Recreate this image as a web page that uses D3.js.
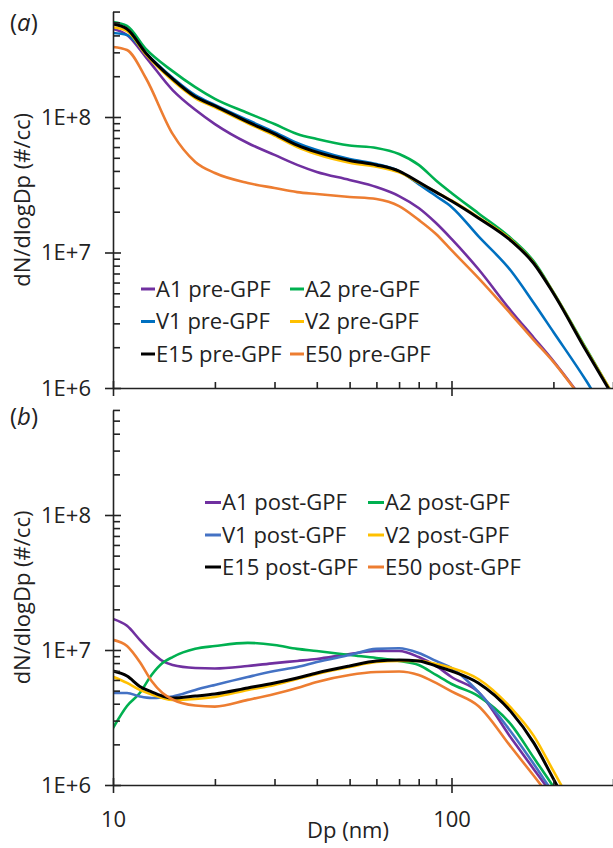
<!DOCTYPE html>
<html><head><meta charset="utf-8">
<script src="https://cdn.jsdelivr.net/npm/d3@7"></script>
<style>
html,body{margin:0;padding:0;background:#fff;}
svg text{font-family:"Open Sans",sans-serif;fill:#222;}
</style></head>
<body>
<svg id="chart" width="613" height="848"></svg>
<script>
// ---------- data ----------
const dpA = [10, 11, 12.5, 15, 17.5, 20, 25, 30, 35, 40, 50, 60, 70, 80, 90, 100, 120, 150, 175, 200, 250, 300];
const A1pre  = [4.46e8, 4.03e8, 2.77e8, 1.58e8, 1.13e8, 8.87e7, 6.43e7, 5.25e7, 4.43e7, 3.93e7, 3.43e7, 3.04e7, 2.61e7, 2.13e7, 1.65e7, 1.26e7, 7.55e6, 3.7e6, 2.35e6, 1.58e6, 7.6e5, 4.1e5];
const A2pre  = [5.02e8, 4.7e8, 3.18e8, 2.18e8, 1.66e8, 1.36e8, 1.07e8, 8.87e7, 7.5e7, 6.88e7, 6.16e7, 5.91e7, 5.33e7, 4.43e7, 3.4e7, 2.75e7, 1.95e7, 1.27e7, 8.6e6, 5.1e6, 1.95e6, 8.9e5];
const V1pre  = [4.17e8, 4.03e8, 2.95e8, 1.95e8, 1.45e8, 1.23e8, 9.5e7, 7.74e7, 6.43e7, 5.71e7, 4.9e7, 4.5e7, 3.99e7, 3.2e7, 2.61e7, 2.17e7, 1.32e7, 7.3e6, 4.24e6, 2.59e6, 1.13e6, 5.3e5];
const V2pre  = [4.6e8, 4.3e8, 2.9e8, 1.86e8, 1.38e8, 1.18e8, 9.0e7, 7.3e7, 6.0e7, 5.3e7, 4.6e7, 4.3e7, 3.9e7, 3.28e7, 2.8e7, 2.42e7, 1.82e7, 1.24e7, 8.4e6, 5.05e6, 1.92e6, 9.0e5];
const E15pre = [4.85e8, 4.46e8, 2.97e8, 1.91e8, 1.41e8, 1.21e8, 9.2e7, 7.5e7, 6.2e7, 5.5e7, 4.78e7, 4.43e7, 3.99e7, 3.31e7, 2.79e7, 2.40e7, 1.8e7, 1.22e7, 8.3e6, 5.0e6, 1.88e6, 8.7e5];
const E50pre = [3.29e8, 3.12e8, 1.94e8, 7.5e7, 4.66e7, 3.86e7, 3.26e7, 2.99e7, 2.79e7, 2.70e7, 2.57e7, 2.48e7, 2.2e7, 1.74e7, 1.37e7, 1.04e7, 6.5e6, 3.5e6, 2.26e6, 1.56e6, 7.5e5, 4.0e5];

const dpB = [10, 11, 12, 13, 14, 15, 17.5, 20, 25, 30, 35, 40, 50, 60, 70, 80, 90, 100, 120, 150, 175, 200, 250];
const A1post  = [1.70e7, 1.51e7, 1.19e7, 9.66e6, 8.3e6, 7.74e6, 7.36e6, 7.3e6, 7.61e6, 8.0e6, 8.3e6, 8.58e6, 9.34e6, 9.83e6, 9.83e6, 8.87e6, 7.61e6, 6.31e6, 4.89e6, 2.23e6, 1.31e6, 8.3e5, 3.9e5];
const A2post  = [2.64e6, 3.85e6, 4.8e6, 6.53e6, 8.0e6, 8.87e6, 1.02e7, 1.07e7, 1.13e7, 1.09e7, 1.02e7, 9.83e6, 9.18e6, 8.73e6, 8.3e6, 7.74e6, 6.53e6, 5.6e6, 4.56e6, 2.8e6, 1.59e6, 9.7e5, 4.05e5];
const V1post  = [4.8e6, 4.8e6, 4.53e6, 4.41e6, 4.45e6, 4.53e6, 5.06e6, 5.51e6, 6.31e6, 6.99e6, 7.48e6, 8.15e6, 9.18e6, 1.02e7, 1.03e7, 9.5e6, 8.3e6, 7.36e6, 4.89e6, 2.47e6, 1.43e6, 8.7e5, 3.9e5];
const V2post  = [6.34e6, 5.7e6, 5.06e6, 4.68e6, 4.41e6, 4.27e6, 4.34e6, 4.49e6, 5.06e6, 5.51e6, 6.1e6, 6.64e6, 7.48e6, 8.15e6, 8.3e6, 8.3e6, 7.87e6, 7.36e6, 6.1e6, 3.72e6, 2.31e6, 1.27e6, 4.6e5];
const E15post = [6.99e6, 6.41e6, 5.37e6, 4.89e6, 4.56e6, 4.41e6, 4.56e6, 4.72e6, 5.23e6, 5.7e6, 6.21e6, 6.76e6, 7.61e6, 8.3e6, 8.43e6, 8.3e6, 7.61e6, 6.99e6, 5.7e6, 3.48e6, 2.05e6, 1.11e6, 3.9e5];
const E50post = [1.19e7, 1.07e7, 8.15e6, 5.89e6, 4.8e6, 4.3e6, 3.88e6, 3.81e6, 4.27e6, 4.72e6, 5.23e6, 5.8e6, 6.53e6, 6.87e6, 6.93e6, 6.53e6, 5.7e6, 4.93e6, 3.85e6, 1.91e6, 1.17e6, 7.6e5, 3.7e5];

const namesPre  = ["A1 pre-GPF", "A2 pre-GPF", "V1 pre-GPF", "V2 pre-GPF", "E15 pre-GPF", "E50 pre-GPF"];
const namesPost = ["A1 post-GPF", "A2 post-GPF", "V1 post-GPF", "V2 post-GPF", "E15 post-GPF", "E50 post-GPF"];
const colorsPre  = ["#7030A0", "#00B050", "#0070C0", "#FFC000", "#000000", "#ED7D31"];
const colorsPost = ["#7030A0", "#00B050", "#4472C4", "#FFC000", "#000000", "#ED7D31"];
const yMajorTicks = [1e6, 1e7, 1e8];
const yMinorTicks = [2e6,3e6,4e6,5e6,6e6,7e6,8e6,9e6,2e7,3e7,4e7,5e7,6e7,7e7,8e7,9e7,2e8,3e8,4e8,5e8,6e8];
const xMajorTicks = [10, 100];
const xMinorTicks = [20,30,40,50,60,70,80,90,200,300];

// ---------- layout ----------
const svg = d3.select("#chart");
const x0 = 113, dec = 338.5;
const x = d3.scaleLog().domain([10, 300]).range([x0, x0 + dec * Math.log10(30)]);
const yA = d3.scaleLog().domain([1e6, 6e8]).range([388, 388 - 135.5 * Math.log10(600)]);
const yB = d3.scaleLog().domain([1e6, 6e8]).range([785, 785 - 135 * Math.log10(600)]);

function panel(id, y, dp, series, names, colors, legend, showXLabels, tag, tagY) {
  const g = svg.append("g");
  const [yb, yt] = y.range();
  g.append("clipPath").attr("id", "clip" + id).append("rect")
    .attr("x", x0).attr("y", yt - 2).attr("width", 613 - x0).attr("height", yb - yt + 2);

  const line = d3.line().x(d => x(d[0])).y(d => y(d[1])).curve(d3.curveMonotoneX);
  const lg = g.append("g").attr("clip-path", `url(#clip${id})`);
  series.forEach((s, i) => {
    lg.append("path").datum(dp.map((d, j) => [d, s[j]]))
      .attr("d", line).attr("fill", "none")
      .attr("stroke", colors[i]).attr("stroke-width", i === 4 ? 3 : 2.6)
      .attr("stroke-linejoin", "round").attr("stroke-linecap", "round");
  });

  // y axis
  const ya = g.append("g").attr("transform", `translate(${x0},0)`);
  ya.call(d3.axisLeft(y).tickValues(yMajorTicks).tickSize(8).tickSizeOuter(0).tickPadding(14)
    .tickFormat(d => "1E+" + Math.round(Math.log10(d))));
  ya.append("g").call(d3.axisRight(y).tickValues(yMajorTicks).tickSize(8).tickFormat(""))
    .select(".domain").remove();
  ya.append("g").call(d3.axisRight(y).tickValues(yMinorTicks).tickSize(7).tickFormat(""))
    .select(".domain").remove();
  ya.selectAll("text").style("font-size", "22px").attr("fill", "#222");

  // x axis
  const xa = g.append("g").attr("transform", `translate(0,${yb})`);
  xa.call(d3.axisBottom(x).tickValues(xMajorTicks).tickSize(8).tickSizeOuter(0).tickPadding(18)
    .tickFormat(showXLabels ? d3.format("d") : () => ""));
  xa.append("g").call(d3.axisTop(x).tickValues(xMajorTicks).tickSize(7).tickFormat(""))
    .select(".domain").remove();
  xa.append("g").call(d3.axisTop(x).tickValues(xMinorTicks).tickSize(6).tickFormat(""))
    .select(".domain").remove();
  xa.selectAll("text").style("font-size", "22px").attr("fill", "#222");

  g.selectAll(".domain, .tick line").attr("stroke", "#222").attr("stroke-width", 1.6);

  // legend
  const lgd = g.append("g");
  names.forEach((n, i) => {
    const col = i % 2, row = Math.floor(i / 2);
    const lx = legend.cols[col], ly = legend.rows[row];
    lgd.append("line").attr("x1", lx).attr("x2", lx + legend.mk).attr("y1", ly).attr("y2", ly)
      .attr("stroke", colors[i]).attr("stroke-width", 3);
    lgd.append("text").attr("x", lx + legend.mk + 1).attr("y", ly).attr("dy", "0.36em")
      .style("font-size", "22px").text(n);
  });

  // tag (a)/(b)
  const t = g.append("text").attr("x", 10).attr("y", tagY).style("font-size", "24px");
  t.append("tspan").text("(");
  t.append("tspan").style("font-style", "italic").text(tag);
  t.append("tspan").text(")");

  // y title
  g.append("text").attr("transform", `translate(30,${(yb + yt) / 2}) rotate(-90)`)
    .attr("text-anchor", "middle").style("font-size", "22px").text("dN/dlogDp (#/cc)");
}

panel("a", yA, dpA, [A1pre, A2pre, V1pre, V2pre, E15pre, E50pre], namesPre, colorsPre,
  {cols: [141, 290], rows: [289, 321.5, 354], mk: 14}, false, "a", 31);
panel("b", yB, dpB, [A1post, A2post, V1post, V2post, E15post, E50post], namesPost, colorsPost,
  {cols: [205, 368], rows: [502.5, 535, 567], mk: 16}, true, "b", 425);

svg.append("text").attr("x", 348).attr("y", 838).attr("text-anchor", "middle")
  .style("font-size", "22px").text("Dp (nm)");
</script>
</body></html>
